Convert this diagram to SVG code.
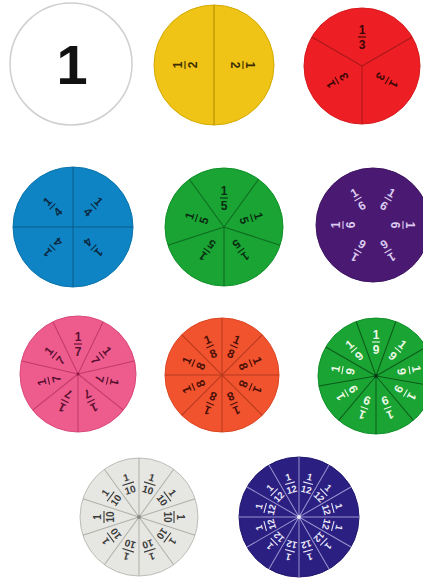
<svg xmlns="http://www.w3.org/2000/svg" width="423" height="579" viewBox="0 0 423 579">
<style>
text{font-family:"Liberation Sans",Arial,sans-serif;font-weight:bold;text-anchor:middle;font-size:12px}
.big{font-size:56px;fill:#111}
.bar{stroke-width:1.1}
.div{stroke-width:1}
#yellow text{fill:#3a2c00}#yellow .bar{stroke:#3a2c00}#yellow .div{stroke:#a88a00}
#red text{fill:#3a0505}#red .bar{stroke:#3a0505}#red .div{stroke:#a81818}
#blue text{fill:#0a2840}#blue .bar{stroke:#0a2840}#blue .div{stroke:#0a5a88}
#green5 text{fill:#082c10}#green5 .bar{stroke:#082c10}#green5 .div{stroke:#0e6a1e}
#purple text{fill:#dccbf0}#purple .bar{stroke:#dccbf0}
#pink text{fill:#5a1030}#pink .bar{stroke:#5a1030}#pink .div{stroke:#c23a6a}
#orange text{fill:#4a1005}#orange .bar{stroke:#4a1005}#orange .div{stroke:#b53a1c}
#green9 text{fill:#eaf8e4}#green9 .bar{stroke:#eaf8e4}#green9 .div{stroke:#0c5a1a}
#gray text{fill:#3a3a3a;font-size:10px}#gray .bar{stroke:#3a3a3a}#gray .div{stroke:#b0b0aa}
#navy text{fill:#e8e8f8;font-size:9.5px}#navy .bar{stroke:#e8e8f8}#navy .div{stroke:#9a96d0}
</style>
<rect width="423" height="579" fill="#fff"/>

<g id="whole">
<circle cx="71" cy="64" r="61" fill="#fff" stroke="#cfcfcf" stroke-width="1.5"/>
<text class="big" x="72" y="84">1</text>
</g>

<g id="yellow">
<circle cx="214" cy="65" r="60" fill="#f0c417" stroke="#d4aa00"/>
<line class="div" x1="214" y1="5" x2="214" y2="125"/>
<g transform="translate(214 65) rotate(270) translate(0 -29)"><text y="-3">1</text><line class="bar" x1="-4" x2="4"/><text y="12">2</text></g>
<g transform="translate(214 65) rotate(90) translate(0 -29)"><text y="-3">1</text><line class="bar" x1="-4" x2="4"/><text y="12">2</text></g>
</g>

<g id="red">
<circle cx="362" cy="66" r="58" fill="#ee1f24" stroke="#d41a1e"/>
<line class="div" x1="362" y1="66" x2="362" y2="8" transform="rotate(60 362 66)"/>
<line class="div" x1="362" y1="66" x2="362" y2="8" transform="rotate(180 362 66)"/>
<line class="div" x1="362" y1="66" x2="362" y2="8" transform="rotate(300 362 66)"/>
<g transform="translate(362 66) rotate(0) translate(0 -29)"><text y="-3">1</text><line class="bar" x1="-4" x2="4"/><text y="12">3</text></g>
<g transform="translate(362 66) rotate(120) translate(0 -29)"><text y="-3">1</text><line class="bar" x1="-4" x2="4"/><text y="12">3</text></g>
<g transform="translate(362 66) rotate(240) translate(0 -29)"><text y="-3">1</text><line class="bar" x1="-4" x2="4"/><text y="12">3</text></g>
</g>

<g id="blue">
<circle cx="73" cy="227" r="60" fill="#0f84c4" stroke="#0b74ad"/>
<line class="div" x1="73" y1="167" x2="73" y2="287"/>
<line class="div" x1="13" y1="227" x2="133" y2="227"/>
<g transform="translate(73 227) rotate(45) translate(0 -29)"><text y="-3">1</text><line class="bar" x1="-4" x2="4"/><text y="12">4</text></g>
<g transform="translate(73 227) rotate(135) translate(0 -29)"><text y="-3">1</text><line class="bar" x1="-4" x2="4"/><text y="12">4</text></g>
<g transform="translate(73 227) rotate(225) translate(0 -29)"><text y="-3">1</text><line class="bar" x1="-4" x2="4"/><text y="12">4</text></g>
<g transform="translate(73 227) rotate(315) translate(0 -29)"><text y="-3">1</text><line class="bar" x1="-4" x2="4"/><text y="12">4</text></g>
</g>

<g id="green5">
<circle cx="224" cy="227" r="59" fill="#19a434" stroke="#12902a"/>
<line class="div" x1="224" y1="227" x2="224" y2="168" transform="rotate(36 224 227)"/>
<line class="div" x1="224" y1="227" x2="224" y2="168" transform="rotate(108 224 227)"/>
<line class="div" x1="224" y1="227" x2="224" y2="168" transform="rotate(180 224 227)"/>
<line class="div" x1="224" y1="227" x2="224" y2="168" transform="rotate(252 224 227)"/>
<line class="div" x1="224" y1="227" x2="224" y2="168" transform="rotate(324 224 227)"/>
<g transform="translate(224 227) rotate(0) translate(0 -29)"><text y="-3">1</text><line class="bar" x1="-4" x2="4"/><text y="12">5</text></g>
<g transform="translate(224 227) rotate(72) translate(0 -29)"><text y="-3">1</text><line class="bar" x1="-4" x2="4"/><text y="12">5</text></g>
<g transform="translate(224 227) rotate(144) translate(0 -29)"><text y="-3">1</text><line class="bar" x1="-4" x2="4"/><text y="12">5</text></g>
<g transform="translate(224 227) rotate(216) translate(0 -29)"><text y="-3">1</text><line class="bar" x1="-4" x2="4"/><text y="12">5</text></g>
<g transform="translate(224 227) rotate(288) translate(0 -29)"><text y="-3">1</text><line class="bar" x1="-4" x2="4"/><text y="12">5</text></g>
</g>

<g id="purple">
<circle cx="373" cy="225" r="57" fill="#4a1a72" stroke="#3e1462"/>
<g transform="translate(373 225) rotate(30) translate(0 -30)"><text y="-3">1</text><line class="bar" x1="-4" x2="4"/><text y="12">6</text></g>
<g transform="translate(373 225) rotate(90) translate(0 -30)"><text y="-3">1</text><line class="bar" x1="-4" x2="4"/><text y="12">6</text></g>
<g transform="translate(373 225) rotate(150) translate(0 -30)"><text y="-3">1</text><line class="bar" x1="-4" x2="4"/><text y="12">6</text></g>
<g transform="translate(373 225) rotate(210) translate(0 -30)"><text y="-3">1</text><line class="bar" x1="-4" x2="4"/><text y="12">6</text></g>
<g transform="translate(373 225) rotate(270) translate(0 -30)"><text y="-3">1</text><line class="bar" x1="-4" x2="4"/><text y="12">6</text></g>
<g transform="translate(373 225) rotate(330) translate(0 -30)"><text y="-3">1</text><line class="bar" x1="-4" x2="4"/><text y="12">6</text></g>
</g>

<g id="pink">
<circle cx="78" cy="374" r="58" fill="#ee5b8d" stroke="#d84a7c"/>
<line class="div" x1="78" y1="374" x2="78" y2="316" transform="rotate(25.71 78 374)"/>
<line class="div" x1="78" y1="374" x2="78" y2="316" transform="rotate(77.14 78 374)"/>
<line class="div" x1="78" y1="374" x2="78" y2="316" transform="rotate(128.57 78 374)"/>
<line class="div" x1="78" y1="374" x2="78" y2="316" transform="rotate(180 78 374)"/>
<line class="div" x1="78" y1="374" x2="78" y2="316" transform="rotate(231.43 78 374)"/>
<line class="div" x1="78" y1="374" x2="78" y2="316" transform="rotate(282.86 78 374)"/>
<line class="div" x1="78" y1="374" x2="78" y2="316" transform="rotate(334.29 78 374)"/>
<circle cx="78" cy="374" r="1.5" fill="#8a1a40"/>
<g transform="translate(78 374) rotate(0) translate(0 -30)"><text y="-3">1</text><line class="bar" x1="-4" x2="4"/><text y="12">7</text></g>
<g transform="translate(78 374) rotate(51.43) translate(0 -30)"><text y="-3">1</text><line class="bar" x1="-4" x2="4"/><text y="12">7</text></g>
<g transform="translate(78 374) rotate(102.86) translate(0 -30)"><text y="-3">1</text><line class="bar" x1="-4" x2="4"/><text y="12">7</text></g>
<g transform="translate(78 374) rotate(154.29) translate(0 -30)"><text y="-3">1</text><line class="bar" x1="-4" x2="4"/><text y="12">7</text></g>
<g transform="translate(78 374) rotate(205.71) translate(0 -30)"><text y="-3">1</text><line class="bar" x1="-4" x2="4"/><text y="12">7</text></g>
<g transform="translate(78 374) rotate(257.14) translate(0 -30)"><text y="-3">1</text><line class="bar" x1="-4" x2="4"/><text y="12">7</text></g>
<g transform="translate(78 374) rotate(308.57) translate(0 -30)"><text y="-3">1</text><line class="bar" x1="-4" x2="4"/><text y="12">7</text></g>
</g>

<g id="orange">
<circle cx="222" cy="375" r="57" fill="#f2532f" stroke="#dc4622"/>
<line class="div" x1="222" y1="318" x2="222" y2="432"/>
<line class="div" x1="165" y1="375" x2="279" y2="375"/>
<line class="div" x1="222" y1="318" x2="222" y2="432" transform="rotate(45 222 375)"/>
<line class="div" x1="222" y1="318" x2="222" y2="432" transform="rotate(-45 222 375)"/>
<g transform="translate(222 375) rotate(22.5) translate(0 -31)"><text y="-3">1</text><line class="bar" x1="-4" x2="4"/><text y="12">8</text></g>
<g transform="translate(222 375) rotate(67.5) translate(0 -31)"><text y="-3">1</text><line class="bar" x1="-4" x2="4"/><text y="12">8</text></g>
<g transform="translate(222 375) rotate(112.5) translate(0 -31)"><text y="-3">1</text><line class="bar" x1="-4" x2="4"/><text y="12">8</text></g>
<g transform="translate(222 375) rotate(157.5) translate(0 -31)"><text y="-3">1</text><line class="bar" x1="-4" x2="4"/><text y="12">8</text></g>
<g transform="translate(222 375) rotate(202.5) translate(0 -31)"><text y="-3">1</text><line class="bar" x1="-4" x2="4"/><text y="12">8</text></g>
<g transform="translate(222 375) rotate(247.5) translate(0 -31)"><text y="-3">1</text><line class="bar" x1="-4" x2="4"/><text y="12">8</text></g>
<g transform="translate(222 375) rotate(292.5) translate(0 -31)"><text y="-3">1</text><line class="bar" x1="-4" x2="4"/><text y="12">8</text></g>
<g transform="translate(222 375) rotate(337.5) translate(0 -31)"><text y="-3">1</text><line class="bar" x1="-4" x2="4"/><text y="12">8</text></g>
</g>

<g id="green9">
<circle cx="376" cy="376" r="58" fill="#1aa433" stroke="#11902a"/>
<line class="div" x1="376" y1="376" x2="376" y2="318" transform="rotate(20 376 376)"/>
<line class="div" x1="376" y1="376" x2="376" y2="318" transform="rotate(60 376 376)"/>
<line class="div" x1="376" y1="376" x2="376" y2="318" transform="rotate(100 376 376)"/>
<line class="div" x1="376" y1="376" x2="376" y2="318" transform="rotate(140 376 376)"/>
<line class="div" x1="376" y1="376" x2="376" y2="318" transform="rotate(180 376 376)"/>
<line class="div" x1="376" y1="376" x2="376" y2="318" transform="rotate(220 376 376)"/>
<line class="div" x1="376" y1="376" x2="376" y2="318" transform="rotate(260 376 376)"/>
<line class="div" x1="376" y1="376" x2="376" y2="318" transform="rotate(300 376 376)"/>
<line class="div" x1="376" y1="376" x2="376" y2="318" transform="rotate(340 376 376)"/>
<circle cx="376" cy="376" r="2" fill="#0a3a12"/>
<g transform="translate(376 376) rotate(0) translate(0 -34)"><text y="-3">1</text><line class="bar" x1="-4" x2="4"/><text y="12">9</text></g>
<g transform="translate(376 376) rotate(40) translate(0 -34)"><text y="-3">1</text><line class="bar" x1="-4" x2="4"/><text y="12">9</text></g>
<g transform="translate(376 376) rotate(80) translate(0 -34)"><text y="-3">1</text><line class="bar" x1="-4" x2="4"/><text y="12">9</text></g>
<g transform="translate(376 376) rotate(120) translate(0 -34)"><text y="-3">1</text><line class="bar" x1="-4" x2="4"/><text y="12">9</text></g>
<g transform="translate(376 376) rotate(160) translate(0 -34)"><text y="-3">1</text><line class="bar" x1="-4" x2="4"/><text y="12">9</text></g>
<g transform="translate(376 376) rotate(200) translate(0 -34)"><text y="-3">1</text><line class="bar" x1="-4" x2="4"/><text y="12">9</text></g>
<g transform="translate(376 376) rotate(240) translate(0 -34)"><text y="-3">1</text><line class="bar" x1="-4" x2="4"/><text y="12">9</text></g>
<g transform="translate(376 376) rotate(280) translate(0 -34)"><text y="-3">1</text><line class="bar" x1="-4" x2="4"/><text y="12">9</text></g>
<g transform="translate(376 376) rotate(320) translate(0 -34)"><text y="-3">1</text><line class="bar" x1="-4" x2="4"/><text y="12">9</text></g>
</g>

<g id="gray">
<circle cx="139" cy="517" r="59" fill="#e6e6e2" stroke="#bdbdb8"/>
<line class="div" x1="139" y1="458" x2="139" y2="576"/>
<line class="div" x1="139" y1="458" x2="139" y2="576" transform="rotate(36 139 517)"/>
<line class="div" x1="139" y1="458" x2="139" y2="576" transform="rotate(72 139 517)"/>
<line class="div" x1="139" y1="458" x2="139" y2="576" transform="rotate(108 139 517)"/>
<line class="div" x1="139" y1="458" x2="139" y2="576" transform="rotate(144 139 517)"/>
<circle cx="139" cy="517" r="2" fill="#888"/>
<g transform="translate(139 517) rotate(18) translate(0 -35)"><text y="-3">1</text><line class="bar" x1="-6" x2="6"/><text y="10">10</text></g>
<g transform="translate(139 517) rotate(54) translate(0 -35)"><text y="-3">1</text><line class="bar" x1="-6" x2="6"/><text y="10">10</text></g>
<g transform="translate(139 517) rotate(90) translate(0 -35)"><text y="-3">1</text><line class="bar" x1="-6" x2="6"/><text y="10">10</text></g>
<g transform="translate(139 517) rotate(126) translate(0 -35)"><text y="-3">1</text><line class="bar" x1="-6" x2="6"/><text y="10">10</text></g>
<g transform="translate(139 517) rotate(162) translate(0 -35)"><text y="-3">1</text><line class="bar" x1="-6" x2="6"/><text y="10">10</text></g>
<g transform="translate(139 517) rotate(198) translate(0 -35)"><text y="-3">1</text><line class="bar" x1="-6" x2="6"/><text y="10">10</text></g>
<g transform="translate(139 517) rotate(234) translate(0 -35)"><text y="-3">1</text><line class="bar" x1="-6" x2="6"/><text y="10">10</text></g>
<g transform="translate(139 517) rotate(270) translate(0 -35)"><text y="-3">1</text><line class="bar" x1="-6" x2="6"/><text y="10">10</text></g>
<g transform="translate(139 517) rotate(306) translate(0 -35)"><text y="-3">1</text><line class="bar" x1="-6" x2="6"/><text y="10">10</text></g>
<g transform="translate(139 517) rotate(342) translate(0 -35)"><text y="-3">1</text><line class="bar" x1="-6" x2="6"/><text y="10">10</text></g>
</g>

<g id="navy">
<circle cx="299" cy="517" r="60" fill="#2b1f82" stroke="#231a70"/>
<line class="div" x1="299" y1="457" x2="299" y2="577"/>
<line class="div" x1="299" y1="457" x2="299" y2="577" transform="rotate(30 299 517)"/>
<line class="div" x1="299" y1="457" x2="299" y2="577" transform="rotate(60 299 517)"/>
<line class="div" x1="299" y1="457" x2="299" y2="577" transform="rotate(90 299 517)"/>
<line class="div" x1="299" y1="457" x2="299" y2="577" transform="rotate(120 299 517)"/>
<line class="div" x1="299" y1="457" x2="299" y2="577" transform="rotate(150 299 517)"/>
<circle cx="299" cy="517" r="2" fill="#e8e8f8"/>
<g transform="translate(299 517) rotate(15) translate(0 -35)"><text y="-3">1</text><line class="bar" x1="-5" x2="5"/><text y="10">12</text></g>
<g transform="translate(299 517) rotate(45) translate(0 -35)"><text y="-3">1</text><line class="bar" x1="-5" x2="5"/><text y="10">12</text></g>
<g transform="translate(299 517) rotate(75) translate(0 -35)"><text y="-3">1</text><line class="bar" x1="-5" x2="5"/><text y="10">12</text></g>
<g transform="translate(299 517) rotate(105) translate(0 -35)"><text y="-3">1</text><line class="bar" x1="-5" x2="5"/><text y="10">12</text></g>
<g transform="translate(299 517) rotate(135) translate(0 -35)"><text y="-3">1</text><line class="bar" x1="-5" x2="5"/><text y="10">12</text></g>
<g transform="translate(299 517) rotate(165) translate(0 -35)"><text y="-3">1</text><line class="bar" x1="-5" x2="5"/><text y="10">12</text></g>
<g transform="translate(299 517) rotate(195) translate(0 -35)"><text y="-3">1</text><line class="bar" x1="-5" x2="5"/><text y="10">12</text></g>
<g transform="translate(299 517) rotate(225) translate(0 -35)"><text y="-3">1</text><line class="bar" x1="-5" x2="5"/><text y="10">12</text></g>
<g transform="translate(299 517) rotate(255) translate(0 -35)"><text y="-3">1</text><line class="bar" x1="-5" x2="5"/><text y="10">12</text></g>
<g transform="translate(299 517) rotate(285) translate(0 -35)"><text y="-3">1</text><line class="bar" x1="-5" x2="5"/><text y="10">12</text></g>
<g transform="translate(299 517) rotate(315) translate(0 -35)"><text y="-3">1</text><line class="bar" x1="-5" x2="5"/><text y="10">12</text></g>
<g transform="translate(299 517) rotate(345) translate(0 -35)"><text y="-3">1</text><line class="bar" x1="-5" x2="5"/><text y="10">12</text></g>
</g>
</svg>
